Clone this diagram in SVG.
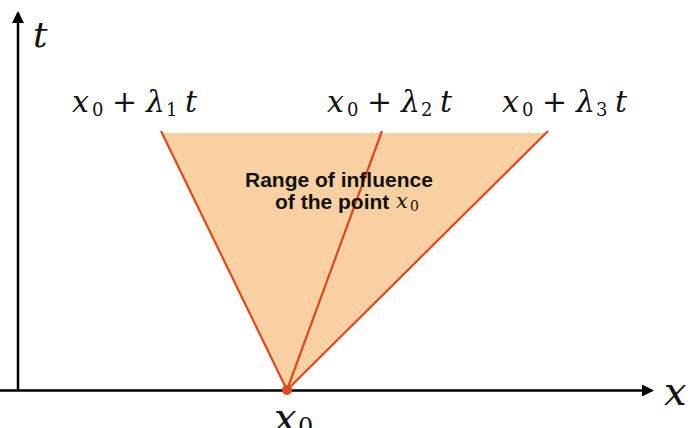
<svg xmlns="http://www.w3.org/2000/svg" width="691" height="428" viewBox="0 0 691 428">
<style>
.m{font-family:"DejaVu Serif","Liberation Serif",serif;font-style:italic;font-size:30px;fill:#111}
.n{font-style:normal}
.s{font-size:18px;font-style:normal}
.edge{stroke:#E0481A;stroke-width:2.2;fill:none}
.axis{stroke:#000;stroke-width:2.5;fill:none}
.lbl{font-family:"Liberation Sans",Arial,sans-serif;font-weight:bold;font-size:21px;fill:#111}
</style>
<defs>
<marker id="ah" markerWidth="12" markerHeight="12" refX="10" refY="6" orient="auto" markerUnits="userSpaceOnUse">
<path d="M0,0 L12,6 L0,12 z" fill="#000"/>
</marker>
</defs>
<rect width="691" height="428" fill="#fff"/>
<g id="region">
<polygon points="163,133 547,133 287,390" fill="#F9D0A2"/>
</g>
<g id="connectors">
<line class="axis" x1="0" y1="390.5" x2="652" y2="390.5" marker-end="url(#ah)"/>
<line class="axis" x1="18" y1="391" x2="18" y2="13" marker-end="url(#ah)"/>
<line class="edge" x1="161" y1="131" x2="287" y2="390"/>
<line class="edge" x1="382" y1="131" x2="287" y2="390"/>
<line class="edge" x1="548" y1="131" x2="287" y2="390"/>
</g>
<g id="point">
<circle cx="287" cy="390" r="5" fill="#E0481A"/>
</g>
<g id="labels">
<text class="m" x="33" y="47" style="font-size:36px">t</text>
<text class="m" x="664" y="405" style="font-size:40px">x</text>
<text class="m" x="274" y="431" style="font-size:40px">x<tspan style="font-size:24px;font-style:normal" x="298" dy="4">0</tspan></text>
<text class="m" y="112"><tspan x="72">x</tspan><tspan class="s" x="92" dy="4">0</tspan><tspan class="n" x="112" dy="-4">+</tspan><tspan x="146">λ</tspan><tspan class="s" x="166" dy="4">1</tspan><tspan x="185" dy="-4">t</tspan></text>
<text class="m" y="112"><tspan x="327">x</tspan><tspan class="s" x="347" dy="4">0</tspan><tspan class="n" x="367" dy="-4">+</tspan><tspan x="401">λ</tspan><tspan class="s" x="421" dy="4">2</tspan><tspan x="440" dy="-4">t</tspan></text>
<text class="m" y="112"><tspan x="502">x</tspan><tspan class="s" x="522" dy="4">0</tspan><tspan class="n" x="542" dy="-4">+</tspan><tspan x="576">λ</tspan><tspan class="s" x="596" dy="4">3</tspan><tspan x="615" dy="-4">t</tspan></text>
<text class="lbl" x="245" y="187">Range of influence</text>
<text class="lbl" x="275" y="209">of the point</text>
<text class="m" x="396" y="208" style="font-size:21px">x<tspan style="font-size:14px;font-style:normal" x="410" dy="3">0</tspan></text>
</g>
</svg>
